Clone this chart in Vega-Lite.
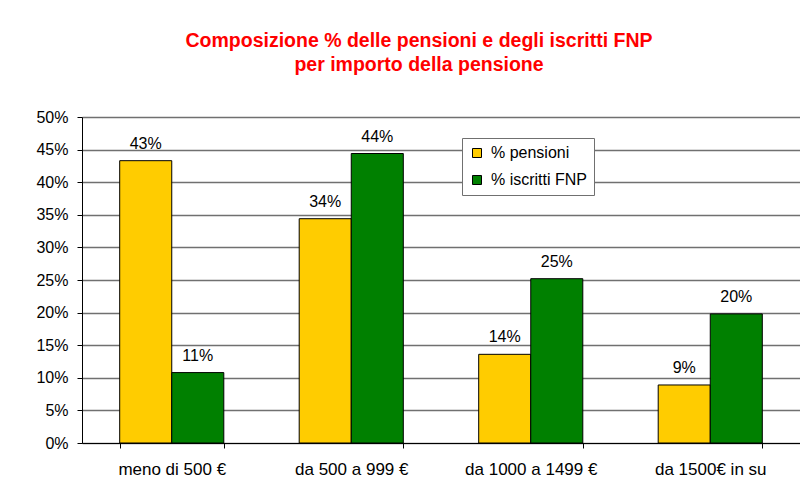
{
  "$schema": "https://vega.github.io/schema/vega-lite/v6.json",
  "width": 718,
  "height": 326,
  "autosize": {"type": "none"},
  "padding": {"left": 82, "top": 117, "right": 0, "bottom": 46},
  "background": "white",
  "title": {
    "text": ["Composizione % delle pensioni e degli iscritti FNP", "per importo della pensione"],
    "color": "#FF0000",
    "font": "Liberation Sans",
    "fontSize": 19.5,
    "fontWeight": "bold",
    "anchor": "middle",
    "frame": "group",
    "dx": -22,
    "offset": 34,
    "lineHeight": 24
  },
  "config": {"view": {"stroke": null}, "font": "Liberation Sans"},
  "data": {
    "values": [
      {"cat": "meno di 500 €", "serie": "% pensioni", "value": 0.433},
      {"cat": "meno di 500 €", "serie": "% iscritti FNP", "value": 0.108},
      {"cat": "da 500 a 999 €", "serie": "% pensioni", "value": 0.344},
      {"cat": "da 500 a 999 €", "serie": "% iscritti FNP", "value": 0.444},
      {"cat": "da 1000 a 1499 €", "serie": "% pensioni", "value": 0.136},
      {"cat": "da 1000 a 1499 €", "serie": "% iscritti FNP", "value": 0.252},
      {"cat": "da 1500€ in su", "serie": "% pensioni", "value": 0.089},
      {"cat": "da 1500€ in su", "serie": "% iscritti FNP", "value": 0.198}
    ]
  },
  "encoding": {
    "x": {
      "field": "cat",
      "type": "nominal",
      "sort": ["meno di 500 €", "da 500 a 999 €", "da 1000 a 1499 €", "da 1500€ in su"],
      "scale": {"paddingInner": 0.42, "paddingOuter": 0.21},
      "axis": {
        "title": null,
        "labelAngle": 0,
        "tickBand": "extent",
        "domainColor": "black",
        "tickColor": "black",
        "tickSize": 5,
        "labelFontSize": 17,
        "labelColor": "black",
        "labelPadding": 13,
        "labelFont": "Liberation Sans"
      }
    },
    "xOffset": {
      "field": "serie",
      "type": "nominal",
      "sort": ["% pensioni", "% iscritti FNP"],
      "scale": {"paddingInner": 0, "paddingOuter": 0}
    },
    "y": {
      "field": "value",
      "type": "quantitative",
      "scale": {"domain": [0, 0.5]},
      "axis": {
        "values": [0, 0.05, 0.1, 0.15, 0.2, 0.25, 0.3, 0.35, 0.4, 0.45, 0.5],
        "format": ".0%",
        "title": null,
        "gridColor": "#707070",
        "gridWidth": 1.3,
        "domainColor": "black",
        "tickColor": "black",
        "tickSize": 5,
        "labelFontSize": 16,
        "labelColor": "black",
        "labelPadding": 9,
        "labelFont": "Liberation Sans"
      }
    }
  },
  "layer": [
    {
      "mark": {"type": "bar", "stroke": "black", "strokeWidth": 1},
      "encoding": {
        "color": {
          "field": "serie",
          "type": "nominal",
          "sort": ["% pensioni", "% iscritti FNP"],
          "scale": {"domain": ["% pensioni", "% iscritti FNP"], "range": ["#FFCC00", "#008000"]},
          "legend": {
            "title": null,
            "orient": "none",
            "legendX": 380,
            "legendY": 21,
            "symbolType": "square",
            "symbolSize": 81,
            "symbolStrokeColor": "black",
            "symbolStrokeWidth": 1,
            "fillColor": "white",
            "strokeColor": "#707070",
            "padding": 7,
            "rowPadding": 11,
            "labelFontSize": 16,
            "labelFont": "Liberation Sans",
            "labelColor": "black",
            "labelOffset": 6
          }
        }
      }
    },
    {
      "mark": {"type": "text", "baseline": "alphabetic", "dy": -12, "fontSize": 16, "font": "Liberation Sans", "color": "black"},
      "encoding": {"text": {"field": "value", "type": "quantitative", "format": ".0%"}}
    }
  ]
}
